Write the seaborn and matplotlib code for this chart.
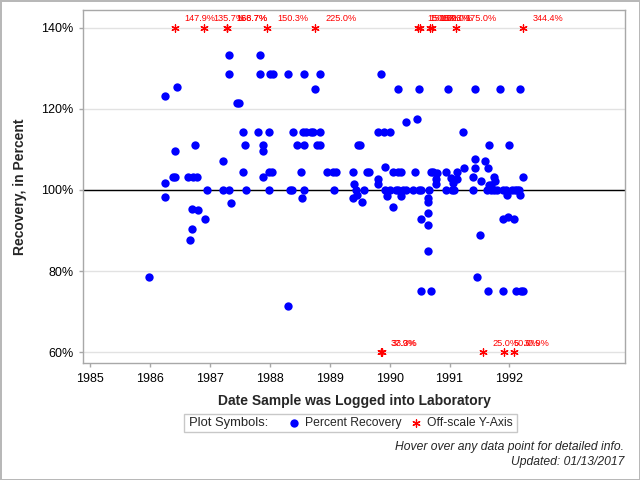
import numpy as np
import pandas as pd
import matplotlib
matplotlib.use("Agg")
import matplotlib.pyplot as plt
import seaborn as sns
from matplotlib.patches import Rectangle

# ========== data ==========
# date logged, as decimal year
rec_year = [
    1985.99,
    1986.25, 1986.25, 1986.25, 1986.39, 1986.42, 1986.45, 1986.42, 1986.64, 1986.72,
    1986.79, 1986.75, 1986.70, 1986.80, 1986.92, 1986.70, 1986.67, 1986.95,
    1987.21, 1987.21, 1987.32, 1987.32, 1987.32, 1987.35, 1987.45, 1987.49, 1987.55,
    1987.55, 1987.59, 1987.60, 1987.81, 1987.84, 1987.84, 1987.88, 1987.89, 1987.89,
    1987.99, 1987.99, 1988.03, 1987.99, 1988.01, 1988.05,
    1988.31, 1988.33, 1988.37, 1988.31, 1988.38, 1988.45, 1988.57, 1988.52, 1988.54,
    1988.57, 1988.56, 1988.60, 1988.57, 1988.69, 1988.72, 1988.76, 1988.79, 1988.84,
    1988.84, 1988.84, 1988.96,
    1989.05, 1989.11, 1989.07, 1989.39, 1989.39, 1989.41, 1989.44, 1989.46, 1989.48,
    1989.51, 1989.54, 1989.58, 1989.63, 1989.66, 1989.80, 1989.80, 1989.80, 1989.86,
    1989.91, 1989.93, 1989.93, 1989.96,
    1990.00, 1990.00, 1990.06, 1990.06, 1990.11, 1990.14, 1990.14, 1990.14, 1990.19,
    1990.19, 1990.23, 1990.28, 1990.28, 1990.39, 1990.43, 1990.45, 1990.49, 1990.49,
    1990.53, 1990.53, 1990.53, 1990.64, 1990.64, 1990.64, 1990.64, 1990.64, 1990.66,
    1990.69, 1990.69, 1990.73, 1990.78, 1990.78, 1990.79, 1990.94, 1990.94, 1990.98,
    1991.03, 1991.04, 1991.08, 1991.06, 1991.13, 1991.13, 1991.23, 1991.24, 1991.39,
    1991.39, 1991.43, 1991.43, 1991.43, 1991.46, 1991.51, 1991.53, 1991.59, 1991.63,
    1991.64, 1991.64, 1991.66, 1991.66, 1991.70, 1991.69, 1991.75, 1991.75, 1991.76,
    1991.80, 1991.84, 1991.89, 1991.90, 1991.90, 1991.95, 1991.96, 1991.98,
    1992.00, 1992.04, 1992.08, 1992.10, 1992.11, 1992.13, 1992.16, 1992.18, 1992.18,
    1992.20, 1992.23, 1992.23,
]
rec_pct = [
    78.4,
    123.1, 101.7, 98.2, 103.1, 103.1, 125.4, 109.6, 103.1, 103.1,
    103.1, 111.0, 95.2, 95.0, 92.8, 90.3, 87.6, 100.0,
    107.2, 100.0, 100.0, 133.3, 128.6, 96.7, 121.5, 121.5, 114.2,
    104.4, 111.0, 100.0, 114.2, 133.3, 128.6, 111.0, 109.6, 103.1,
    114.2, 104.4, 104.4, 100.0, 128.6, 128.6,
    128.6, 100.0, 100.0, 71.3, 114.2, 111.0, 111.0, 104.4, 97.9,
    128.6, 114.2, 114.2, 100.0, 114.2, 114.2, 124.9, 111.0, 111.0,
    114.2, 128.6, 104.4,
    104.4, 104.4, 100.0, 104.4, 97.9, 101.4, 100.0, 98.7, 111.0,
    111.0, 97.0, 100.0, 104.4, 104.4, 114.2, 102.8, 101.4, 128.6,
    114.2, 105.6, 100.0, 98.4,
    114.2, 100.0, 104.4, 95.8, 100.0, 104.4, 124.9, 100.0, 104.4,
    98.4, 100.0, 100.0, 116.7, 100.0, 104.4, 117.5, 124.9, 100.0,
    92.8, 75.0, 100.0, 97.9, 97.0, 94.2, 91.3, 84.9, 100.0,
    75.0, 104.4, 104.4, 102.6, 101.4, 104.1, 104.4, 100.0, 124.9,
    102.9, 100.0, 100.0, 101.7, 104.4, 102.6, 114.2, 105.4, 103.1,
    100.0, 124.9, 107.6, 105.4, 78.4, 88.8, 102.1, 107.1, 100.0,
    75.0, 105.4, 111.0, 101.2, 101.2, 100.0, 103.1, 100.0, 102.1,
    100.0, 124.9, 92.8, 100.0, 75.0, 100.0, 98.7, 93.3,
    111.0, 100.0, 92.8, 100.0, 75.0, 100.0, 100.0, 124.9, 98.7,
    75.0, 75.0, 103.1,
]

# values outside the axis range, drawn on the 140% / 60% edge
off_year = [1986.41, 1986.90, 1987.28, 1987.28, 1987.96, 1988.76, 1990.47, 1990.50,
            1990.67, 1990.70, 1991.11, 1992.22, 1989.85, 1989.88, 1991.56, 1991.91,
            1992.08]
off_pct = [147.9, 135.7, 166.7, 168.7, 150.3, 225.0, 150.0, 150.0,
           153.3, 160.0, 175.0, 344.4, 37.9, 33.3, 25.0, 50.0,
           30.9]

year_ticks = list(range(1985, 1993))
pct_ticks = [60, 80, 100, 120, 140]

# ========== plot ==========
sns.set_theme(style="white")
plt.rcParams["font.family"] = ["Liberation Sans", "DejaVu Sans"]

W, H = 640, 480
fig = plt.figure(figsize=(6.4, 4.8), dpi=100)
ax = fig.add_axes([83 / W, 1 - 363 / H, 542 / W, 353 / H])

df = pd.DataFrame({"year": rec_year, "pct": rec_pct})
off = pd.DataFrame({"year": off_year, "pct": off_pct})
off["edge"] = np.where(off["pct"] > 100, pct_ticks[-1], pct_ticks[0])

ax.axhline(100, color="black", lw=1, zorder=1)
sns.scatterplot(data=df, x="year", y="pct", color="blue", s=36, linewidth=0,
                ax=ax, label="Percent Recovery", zorder=3)
sns.scatterplot(data=off, x="year", y="edge", marker=(6, 2, 0), color="red",
                s=28, linewidth=0.9, ax=ax, label="Off-scale Y-Axis", zorder=3)

for _, r in off.iterrows():
    ax.annotate(f"{r['pct']:.1f}%", (r["year"], r["edge"]), xytext=(7, 6.5),
                textcoords="offset points", ha="left", va="center",
                color="red", fontsize=6.6)

ax.set_xlim(1984.88, 1993.93)
ax.set_ylim(57.3, 144.4)
ax.set_xticks(year_ticks)
ax.set_xticklabels([str(y) for y in year_ticks])
ax.set_yticks(pct_ticks)
ax.set_yticklabels([f"{p}%" for p in pct_ticks])
ax.yaxis.grid(True, color="#e2e2e2", lw=1)
ax.set_axisbelow(True)
for s in ax.spines.values():
    s.set_color("#a8a8a8")
    s.set_linewidth(1)
ax.tick_params(bottom=True, left=True, direction="out", length=3, width=1,
               color="#a8a8a8", labelsize=9, labelcolor="black", pad=4)

ax.set_xlabel("Date Sample was Logged into Laboratory", fontsize=10, fontweight="bold")
ax.xaxis.set_label_coords(0.5, (363 - 401) / 353)
ax.xaxis.label.set_va("center")
ax.set_ylabel("Recovery, in Percent", fontsize=10, fontweight="bold")
ax.yaxis.set_label_coords((20 - 83) / 542, 0.5)
ax.yaxis.label.set_va("center")

# legend strip under the axis
handles, labels = ax.get_legend_handles_labels()
ax.get_legend().remove()
fig.add_artist(Rectangle((184 / W, 1 - 432 / H), 333 / W, 18 / H,
                         transform=fig.transFigure, fill=False,
                         edgecolor="#c8c8c8", lw=1))
fig.text(189 / W, 1 - 423 / H, "Plot Symbols:", va="center", fontsize=9.4)
fig.legend(handles, labels, loc="center left",
           bbox_to_anchor=((294 - 6) / W, 1 - 423 / H), ncol=2, frameon=False,
           fontsize=8.7, handlelength=1.0, handletextpad=0.41, columnspacing=0.66,
           borderpad=0, borderaxespad=0)

fig.text(624 / W, 1 - 447 / H, "Hover over any data point for detailed info.",
         ha="right", va="center", style="italic", fontsize=8.7)
fig.text(624 / W, 1 - 462 / H, "Updated: 01/13/2017",
         ha="right", va="center", style="italic", fontsize=8.7)

fig.patch.set_edgecolor("#b8b8b8")
fig.patch.set_linewidth(2)

fig.savefig("out.png", dpi=100)
